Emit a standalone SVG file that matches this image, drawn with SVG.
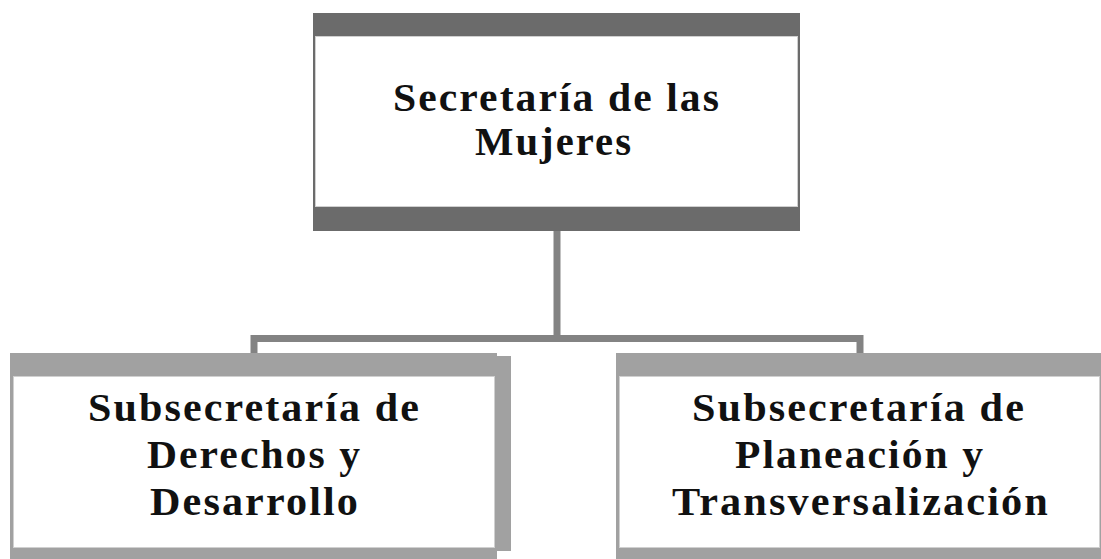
<svg xmlns="http://www.w3.org/2000/svg" width="1101" height="559" viewBox="0 0 1101 559">
<style>
.lbl{font-family:"Liberation Serif","Times New Roman",serif;font-weight:bold;font-size:40px;letter-spacing:2px;fill:#111}
.frameTop{fill:#6b6b6b}
.frameSub{fill:#a1a1a1}
.inner{fill:#ffffff;stroke:#d0d0d0;stroke-width:1}
.conn{fill:none;stroke:#838383;stroke-width:7}
</style>
<rect width="1101" height="559" fill="#ffffff"/>
<g id="connectors">
<path class="conn" d="M557 231 V338.5 M254 353 V338.5 H860 V353"/>
</g>
<g id="node-secretaria">
<rect class="frameTop" x="313" y="13" width="487" height="218"/>
<rect class="inner" x="315.5" y="36.5" width="482" height="170"/>
<text class="lbl" x="393" y="111" textLength="328" lengthAdjust="spacingAndGlyphs">Secretaría de las</text>
<text class="lbl" x="475" y="155" textLength="158" lengthAdjust="spacingAndGlyphs">Mujeres</text>
</g>
<g id="node-derechos">
<rect class="frameSub" x="10" y="353" width="487" height="206"/>
<rect class="frameSub" x="495" y="356" width="16" height="195"/>
<rect class="inner" x="13.5" y="376.5" width="481" height="171"/>
<text class="lbl" x="88" y="421" textLength="333" lengthAdjust="spacingAndGlyphs">Subsecretaría de</text>
<text class="lbl" x="147" y="468" textLength="215" lengthAdjust="spacingAndGlyphs">Derechos y</text>
<text class="lbl" x="150" y="515" textLength="210" lengthAdjust="spacingAndGlyphs">Desarrollo</text>
</g>
<g id="node-planeacion">
<rect class="frameSub" x="616" y="353" width="490" height="206"/>
<rect class="inner" x="619.5" y="376.5" width="480" height="171"/>
<text class="lbl" x="692" y="421" textLength="334" lengthAdjust="spacingAndGlyphs">Subsecretaría de</text>
<text class="lbl" x="735" y="468" textLength="250" lengthAdjust="spacingAndGlyphs">Planeación y</text>
<text class="lbl" x="672" y="515" textLength="378" lengthAdjust="spacingAndGlyphs">Transversalización</text>
</g>
</svg>
